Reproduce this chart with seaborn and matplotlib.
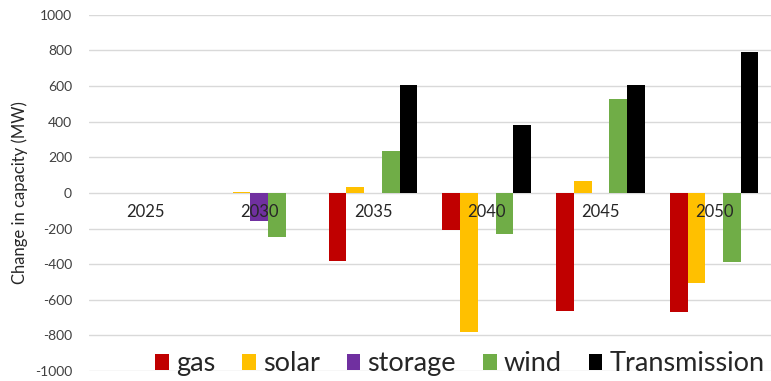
import numpy as np
import pandas as pd
import matplotlib
matplotlib.use("Agg")
import matplotlib.pyplot as plt
import seaborn as sns

# data
years = ["2025", "2030", "2035", "2040", "2045", "2050"]
sources = ["gas", "solar", "storage", "wind", "Transmission"]
gas = [0, 0, -380, -210, -665, -670]
solar = [0, 5, 35, -780, 70, -505]
storage = [0, -160, 0, 0, 0, 0]
wind = [0, -245, 235, -230, 530, -390]
transmission = [0, 0, 605, 380, 605, 790]
colors = ["#C00000", "#FFC000", "#7030A0", "#70AD47", "#000000"]

df = pd.DataFrame({"year": years, "gas": gas, "solar": solar, "storage": storage,
                   "wind": wind, "Transmission": transmission})
df = df.melt(id_vars="year", var_name="source", value_name="value")

sns.set_style("white")
plt.rcParams['font.family'] = ['Lato', 'DejaVu Sans']
plt.rcParams['axes.unicode_minus'] = False

fig = plt.figure(figsize=(7.71, 3.81), dpi=100)
ax = fig.add_axes([0.115, 0.026, 0.885, 0.935])

sns.barplot(data=df, x="year", y="value", hue="source", hue_order=sources,
            palette=colors, width=0.78, gap=0, saturation=1, ax=ax,
            errorbar=None, legend=True, linewidth=0, edgecolor="none")

ax.set_ylim(-1000, 1000)
ax.set_yticks(np.arange(-1000, 1001, 200))
ax.yaxis.grid(True, color="#D9D9D9", linewidth=1)
ax.set_axisbelow(True)
ax.xaxis.set_zorder(5)
for s in ["top", "right", "left", "bottom"]:
    ax.spines[s].set_visible(False)
ax.spines["bottom"].set_position(("data", 0))
ax.tick_params(axis="x", length=0, pad=8, labelsize=12, labelcolor="#262626")
ax.tick_params(axis="y", length=0, pad=12, labelsize=10, labelcolor="#404040")
ax.set_xlabel("")
ax.set_ylabel("Change in capacity (MW)", fontsize=12, color="#262626", labelpad=5)

ax.legend(loc="center", bbox_to_anchor=(0.544, 0.02), ncol=5, frameon=False,
          fontsize=19.5, handlelength=0.5, handleheight=0.5, handletextpad=0.26,
          columnspacing=1.0, borderaxespad=0, borderpad=0)

fig.savefig("out.png", dpi=100)
